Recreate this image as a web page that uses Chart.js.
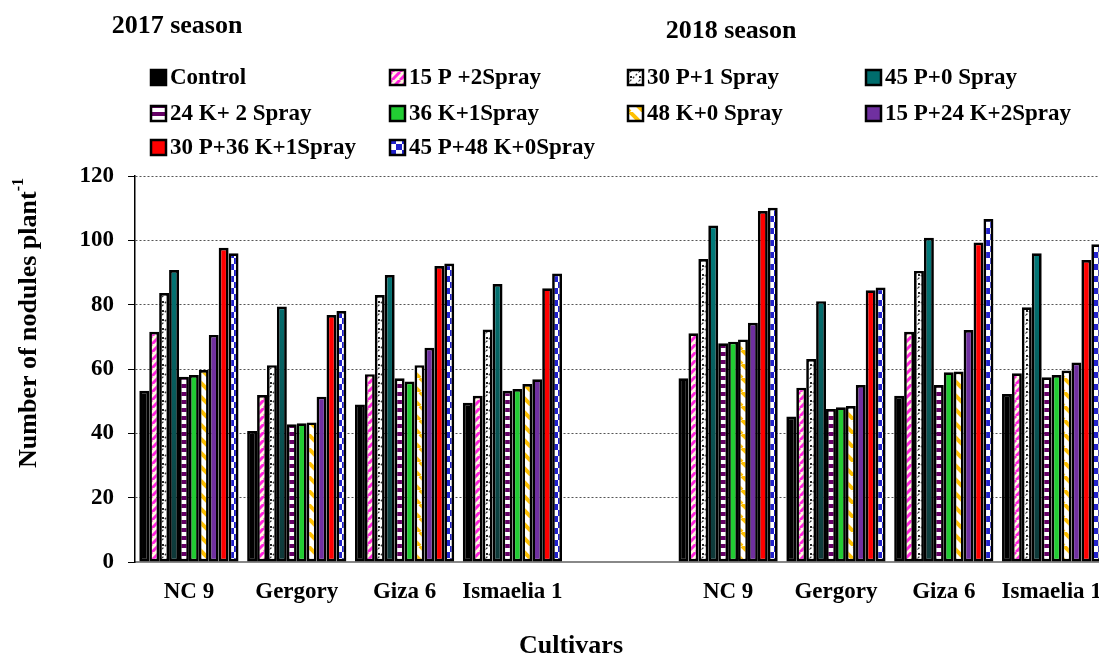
<!DOCTYPE html>
<html>
<head>
<meta charset="utf-8">
<script src="https://cdn.jsdelivr.net/npm/chart.js@4"></script>
<style>
  html, body { margin: 0; padding: 0; background: #fff; overflow: hidden; }
  #wrap { width: 1110px; height: 657px; }
</style>
</head>
<body>
<div id="wrap"><canvas id="myChart" width="1110" height="657"></canvas></div>
<script>
const cultivars = ['NC 9', 'Gergory', 'Giza 6', 'Ismaelia 1', '', 'NC 9', 'Gergory', 'Giza 6', 'Ismaelia 1'];
const seasonTitles = ['2017 season', '2018 season'];
const yTicks = [0, 20, 40, 60, 80, 100, 120];

// values per treatment, 2017 cultivars, gap, 2018 cultivars
const control   = [53.2, 40.7, 49.0, 49.5, null, 57.1, 45.2, 51.7, 52.2];
const p15spray2 = [71.6, 51.9, 58.4, 51.7, null, 71.1, 54.2, 71.6, 58.7];
const p30spray1 = [83.6, 61.2, 83.0, 72.3, null, 94.2, 63.1, 90.5, 79.2];
const p45spray0 = [90.8, 79.4, 89.2, 86.4, null, 104.6, 81.1, 100.8, 96.0];
const k24spray2 = [57.6, 42.8, 57.1, 53.2, null, 68.0, 47.6, 55.0, 57.4];
const k36spray1 = [58.1, 43.1, 56.1, 53.8, null, 68.5, 48.1, 59.0, 58.1];
const k48spray0 = [59.7, 43.4, 61.2, 55.3, null, 69.2, 48.5, 59.2, 59.5];
const p15k24    = [70.6, 51.4, 66.6, 56.8, null, 74.4, 55.0, 72.1, 62.0];
const p30k36    = [97.7, 76.8, 92.0, 85.1, null, 109.1, 84.5, 99.3, 93.9];
const p45k48    = [96.0, 78.0, 92.8, 89.7, null, 110.1, 85.3, 106.6, 98.8];

const FONT = "'Liberation Serif', 'Times New Roman', serif";

function makePattern(w, h, draw) {
    const c = document.createElement('canvas');
    c.width = w; c.height = h;
    const g = c.getContext('2d');
    draw(g, w, h);
    return g.createPattern(c, 'repeat');
}

const pinkDiag = makePattern(8, 8, (g, w, h) => {
    g.fillStyle = '#fff8e0'; g.fillRect(0, 0, w, h);
    g.strokeStyle = '#ff22dd'; g.lineWidth = 3;
    for (let k = -1; k <= 1; k++) { g.beginPath(); g.moveTo(k * w, h); g.lineTo(k * w + w, 0); g.stroke(); }
});
const dotZig = makePattern(9, 9, (g, w, h) => {
    g.fillStyle = '#fff'; g.fillRect(0, 0, w, h);
    g.strokeStyle = '#333'; g.lineWidth = 1.3; g.setLineDash([2, 2]);
    for (let k = -1; k <= 1; k++) { g.beginPath(); g.moveTo(k * w, h); g.lineTo(k * w + w, 0); g.stroke(); }
    g.fillStyle = '#222'; g.fillRect(0, 4, 2, 2);
});
const purpleStripe = makePattern(4, 8, (g, w, h) => {
    g.fillStyle = '#fff'; g.fillRect(0, 0, w, h);
    g.fillStyle = '#660066'; g.fillRect(0, 0, w, 4);
});
const orangeDiag = makePattern(14, 14, (g, w, h) => {
    g.fillStyle = '#fff'; g.fillRect(0, 0, w, h);
    g.strokeStyle = '#ffc000'; g.lineWidth = 4;
    for (let k = -1; k <= 1; k++) { g.beginPath(); g.moveTo(k * w, 0); g.lineTo(k * w + w, h); g.stroke(); }
});
const blueChecker = makePattern(12, 12, (g, w, h) => {
    g.fillStyle = '#fff'; g.fillRect(0, 0, w, h);
    g.fillStyle = '#2222cc'; g.fillRect(0, 0, 6, 6); g.fillRect(6, 6, 6, 6);
});
const tealFill = (context) => {
    const area = context.chart.chartArea;
    if (!area) return '#007a7a';
    const grad = context.chart.ctx.createLinearGradient(0, area.top + 40, 0, area.bottom);
    grad.addColorStop(0, '#008080');
    grad.addColorStop(1, '#0f3838');
    return grad;
};

const series = [
    { label: 'Control', data: control, fill: '#000000' },
    { label: '15 P +2Spray', data: p15spray2, fill: pinkDiag },
    { label: '30 P+1 Spray', data: p30spray1, fill: dotZig },
    { label: '45 P+0 Spray', data: p45spray0, fill: tealFill, swatch: '#006d6d' },
    { label: '24 K+ 2 Spray', data: k24spray2, fill: purpleStripe },
    { label: '36 K+1Spray', data: k36spray1, fill: '#22cc33' },
    { label: '48 K+0 Spray', data: k48spray0, fill: orangeDiag },
    { label: '15 P+24 K+2Spray', data: p15k24, fill: '#7030a0' },
    { label: '30 P+36 K+1Spray', data: p30k36, fill: '#ff0000' },
    { label: '45 P+48 K+0Spray', data: p45k48, fill: blueChecker }
];

// legend, titles and the y title with superscript
const extras = {
    id: 'extras',
    afterDraw(chart) {
        const c = chart.ctx;
        c.save();
        c.fillStyle = '#000';
        c.textBaseline = 'middle';
        c.font = 'bold 26px ' + FONT;
        c.textAlign = 'center';
        c.fillText(seasonTitles[0], 177, 26);
        c.fillText(seasonTitles[1], 731, 31);
        c.fillText('Cultivars', 571, 646);

        const colX = [151, 390, 628, 866];
        const rowY = [78, 114, 148];
        c.font = 'bold 23px ' + FONT;
        c.textAlign = 'left';
        series.forEach((s, i) => {
            const x = colX[i % 4], y = rowY[Math.floor(i / 4)];
            c.fillStyle = s.swatch || s.fill;
            c.fillRect(x, y - 8, 15, 15);
            c.strokeStyle = '#000'; c.lineWidth = 2.5;
            c.strokeRect(x, y - 8, 15, 15);
            c.fillStyle = '#000';
            c.fillText(s.label, x + 19, y);
        });

        c.translate(25, 323);
        c.rotate(-Math.PI / 2);
        const main = 'Number of nodules plant';
        c.font = 'bold 26px ' + FONT;
        const w1 = c.measureText(main).width;
        c.font = 'bold 16px ' + FONT;
        const w2 = c.measureText('-1').width;
        const start = -(w1 + w2) / 2;
        c.font = 'bold 26px ' + FONT;
        c.fillText(main, start, 4);
        c.font = 'bold 16px ' + FONT;
        c.fillText('-1', start + w1, -6);
        c.restore();
    }
};

const ctx = document.getElementById('myChart').getContext('2d');
let myChart = new Chart(ctx, {
    type: 'bar',
    data: {
        labels: cultivars,
        datasets: series.map(s => ({
            label: s.label,
            data: s.data,
            backgroundColor: s.fill,
            borderColor: '#000',
            borderWidth: 2.7,
            borderSkipped: false
        }))
    },
    options: {
        responsive: false,
        animation: false,
        layout: { padding: { left: 0, right: 4, top: 176, bottom: 0 } },
        datasets: { bar: { categoryPercentage: 0.92, barPercentage: 1.0 } },
        plugins: { legend: { display: false }, tooltip: { enabled: false } },
        scales: {
            x: {
                afterFit: (scale) => { scale.height = 95; },
                grid: { display: false },
                border: { display: true, color: '#888', width: 2 },
                ticks: { color: '#000', font: { family: FONT, size: 23, weight: 'bold' }, padding: 8, maxRotation: 0, autoSkip: false }
            },
            y: {
                min: 0,
                max: 120,
                afterFit: (scale) => { scale.width = 135; },
                afterBuildTicks: (scale) => { scale.ticks = yTicks.map(v => ({ value: v })); },
                grid: {
                    color: (c) => c.tick && c.tick.value === 0 ? 'rgba(0,0,0,0)' : '#555',
                    lineWidth: 1,
                    tickColor: '#000',
                    tickLength: 7,
                    tickWidth: 1
                },
                border: { display: true, color: '#000', width: 1.5, dash: [2, 2] },
                ticks: { color: '#000', font: { family: FONT, size: 23, weight: 'bold' }, padding: 14 }
            }
        }
    },
    plugins: [extras]
});
</script>
</body>
</html>
